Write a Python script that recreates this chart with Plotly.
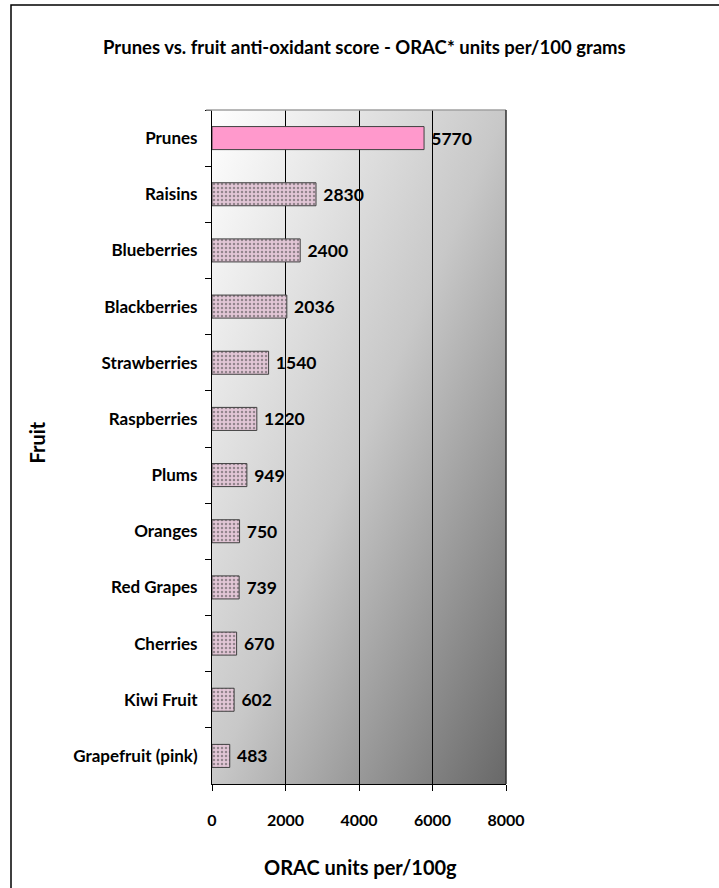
import plotly.graph_objects as go

fruits = ["Prunes", "Raisins", "Blueberries", "Blackberries", "Strawberries",
          "Raspberries", "Plums", "Oranges", "Red Grapes", "Cherries",
          "Kiwi Fruit", "Grapefruit (pink)"]
orac = [5770, 2830, 2400, 2036, 1540, 1220, 949, 750, 739, 670, 602, 483]
x_ticks = [0, 2000, 4000, 6000, 8000]

title_text = "Prunes vs. fruit anti-oxidant score - ORAC* units per/100 grams"
x_title = "ORAC units per/100g"
y_title = "Fruit"

W, H = 719, 888
L, R, T, B = 212, 506, 110, 784  # plot area in pixels
PW, PH = R - L, B - T

def px_x(p):
    return (p - L) / PW

def px_y(p):
    return (B - p) / PH

FONT = "Lato"

bar_colors = ["#ff99cc" if i == 0 else "#e2c6d6" for i in range(len(fruits))]
pattern_shapes = ["" if i == 0 else "." for i in range(len(fruits))]

fig = go.Figure()
fig.add_trace(go.Bar(
    y=fruits, x=orac, orientation="h",
    marker=dict(color=bar_colors,
                line=dict(color="#404040", width=1),
                pattern=dict(shape=pattern_shapes, fgcolor="#ff8cc8",
                             bgcolor="#e2c6d6", size=4, solidity=0.3)),
    text=["\u00a0" + str(v) for v in orac], textposition="outside",
    textfont=dict(family=FONT, size=17.5, color="black", weight="bold"),
    cliponaxis=False, hoverinfo="skip",
))

svg = ("data:image/svg+xml;utf8,"
       "<svg xmlns='http://www.w3.org/2000/svg' width='100' height='100' "
       "viewBox='0 0 1 1' preserveAspectRatio='none'>"
       "<defs><linearGradient id='g' x1='0' y1='0' x2='1' y2='1'>"
       "<stop offset='0' stop-color='%23ffffff'/>"
       "<stop offset='0.5' stop-color='%23c8c8c8'/>"
       "<stop offset='1' stop-color='%23686868'/>"
       "</linearGradient></defs>"
       "<rect x='0' y='0' width='1' height='1' fill='url(%23g)'/></svg>")

fig.update_layout(
    width=W, height=H,
    margin=dict(l=L, r=W - R, t=T, b=H - B),
    paper_bgcolor="white", plot_bgcolor="rgba(0,0,0,0)",
    showlegend=False, bargap=0.59,
    font=dict(family=FONT, color="black"),
    images=[dict(source=svg, xref="x domain", yref="y domain", x=0, y=1,
                 sizex=1, sizey=1, xanchor="left", yanchor="top",
                 sizing="stretch", layer="below")],
    xaxis=dict(range=[0, 8000], tickvals=x_ticks, ticks="outside", ticklen=6,
               tickcolor="black", showgrid=True, gridcolor="black", gridwidth=1,
               showline=True, linecolor="black", linewidth=1, zeroline=False,
               ticklabelstandoff=16,
               tickfont=dict(family=FONT, size=16, color="black", weight="bold")),
    yaxis=dict(autorange="reversed", ticks="outside", tickson="boundaries",
               ticklen=6, tickcolor="black", showgrid=False,
               showline=True, linecolor="black", linewidth=1,
               tickfont=dict(family=FONT, size=17, color="black", weight="bold"),
               ticklabelstandoff=10),
    shapes=[
        dict(type="line", xref="x domain", yref="y domain", x0=-0.02, x1=1, y0=1, y1=1,
             line=dict(color="#a0a0a0", width=1.5)),
        dict(type="line", xref="x domain", yref="y domain", x0=1, x1=1, y0=0, y1=1,
             line=dict(color="#303030", width=1.5)),
        dict(type="rect", xref="paper", yref="paper",
             x0=px_x(11), x1=px_x(W + 20), y0=px_y(H + 20), y1=px_y(5),
             line=dict(color="black", width=1.5), fillcolor="rgba(0,0,0,0)", layer="below"),
    ],
    annotations=[
        dict(text=title_text, xref="paper", yref="paper", x=px_x(364), y=px_y(47),
             showarrow=False, xanchor="center", yanchor="middle",
             font=dict(family=FONT, size=18.5, color="black", weight="bold")),
        dict(text=x_title, xref="paper", yref="paper", x=px_x(360), y=px_y(867),
             showarrow=False, xanchor="center", yanchor="middle",
             font=dict(family=FONT, size=20, color="black", weight="bold")),
        dict(text=y_title, xref="paper", yref="paper", x=px_x(36.5), y=px_y(442),
             showarrow=False, xanchor="center", yanchor="middle", textangle=-90,
             font=dict(family=FONT, size=20, color="black", weight="bold")),
    ],
)

fig.write_html("out.html", config={"displayModeBar": False},
               post_script="document.body.style.margin='0';")
